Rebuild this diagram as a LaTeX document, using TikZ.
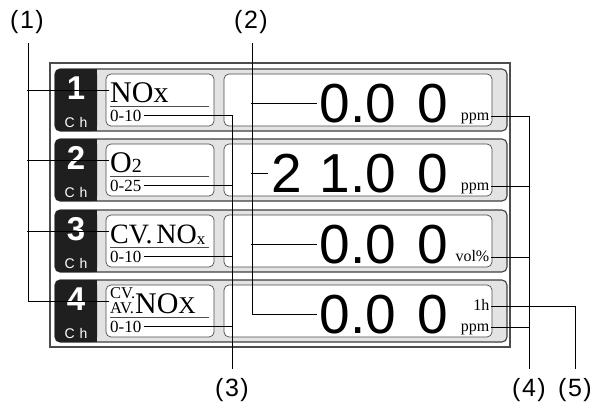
\documentclass[tikz,border=0pt]{standalone}
\usepackage{fontspec}
\setmainfont{Liberation Serif}
\setsansfont{Liberation Sans}
\usetikzlibrary{positioning,calc}

\tikzset{
  rowbox/.style={draw=black!75, fill=black!11, line width=1.1pt, rounded corners=5pt},
  chbox/.style={fill=black!88},
  winbox/.style={draw=black!70, fill=white, line width=0.7pt, rounded corners=5pt},
  leader/.style={draw=black, line width=0.8pt},
  callout/.style={font=\sffamily\fontsize{25}{25}\selectfont, inner sep=0pt},
  chnum/.style={font=\sffamily\bfseries\fontsize{33}{33}\selectfont, text=white, inner sep=0pt, anchor=base},
  chtxt/.style={font=\sffamily\fontsize{14}{14}\selectfont, text=white, inner sep=0pt, anchor=base},
  gasname/.style={font=\fontsize{30}{30}\selectfont, inner sep=1pt, anchor=base west, text height=24pt, text depth=0pt},
  gasrange/.style={font=\fontsize{17}{17}\selectfont, inner sep=2pt, anchor=base west},
  reading/.style={font=\sffamily\fontsize{55}{55}\selectfont, inner ysep=0pt, inner xsep=3pt, anchor=base east},
  unit/.style={font=\fontsize{16}{16}\selectfont, inner sep=1.5pt, anchor=base east, text height=11pt, text depth=3.5pt},
}

\begin{document}
\begin{tikzpicture}[x=1pt,y=-1pt]
                \useasboundingbox (0,0) rectangle (595,410);
                \draw[black!70, line width=1.2pt] (50,63) rectangle (510,347);
                % channel rows
                \draw[rowbox] (55,69) rectangle (507,131);
                \draw[rowbox] (55,139) rectangle (507,201);
                \draw[rowbox] (55,210) rectangle (507,272);
                \draw[rowbox] (55,280) rectangle (507,342);
                \fill[chbox, rounded corners=5pt] (55,69) rectangle (97,131);
                \fill[chbox, rounded corners=5pt] (55,139) rectangle (97,201);
                \fill[chbox, rounded corners=5pt] (55,210) rectangle (97,272);
                \fill[chbox, rounded corners=5pt] (55,280) rectangle (97,342);
                \fill[chbox] (85,69) rectangle (97,131);
                \fill[chbox] (85,139) rectangle (97,201);
                \fill[chbox] (85,210) rectangle (97,272);
                \fill[chbox] (85,280) rectangle (97,342);
                \node[chnum] (chno1) at (76,99) {1};
                \node[chnum] (chno2) at (76,169) {2};
                \node[chnum] (chno3) at (76,240) {3};
                \node[chnum] (chno4) at (76,310) {4};
                \node[chtxt] (chlbl1) at (76,127) {C\hspace{5pt}h};
                \node[chtxt] (chlbl2) at (76,197) {C\hspace{5pt}h};
                \node[chtxt] (chlbl3) at (76,268) {C\hspace{5pt}h};
                \node[chtxt] (chlbl4) at (76,338) {C\hspace{5pt}h};
                \draw[winbox] (106,74) rectangle (214,126);
                \draw[winbox] (106,144) rectangle (214,196);
                \draw[winbox] (106,215) rectangle (214,267);
                \draw[winbox] (106,285) rectangle (214,337);
                \draw[winbox] (224,74) rectangle (492,126);
                \draw[winbox] (224,144) rectangle (492,196);
                \draw[winbox] (224,215) rectangle (492,267);
                \draw[winbox] (224,285) rectangle (492,337);
                \draw[black!70, line width=0.7pt] (110,106) -- (209,106);
                \draw[black!70, line width=0.7pt] (110,176) -- (209,176);
                \draw[black!70, line width=0.7pt] (110,247) -- (209,247);
                \draw[black!70, line width=0.7pt] (110,317) -- (209,317);
                % texts
                \node[gasname] (name1) at (109,102) {NOx};
                \node[gasname] (name2) at (109,172) {O{\fontsize{20}{20}\selectfont 2}};
                \node[gasname, font=\fontsize{28}{28}\selectfont] (name3) at (109,243) {CV.\hspace{4pt}NO\raisebox{-1pt}{\fontsize{17}{17}\selectfont x}};
                \node[gasname] (name4) at (109,313) {{\fontsize{16.5}{13.5}\selectfont\begin{tabular}[b]{@{}l@{}}CV.\\AV.\end{tabular}}NO{\fontsize{24}{24}\selectfont X}};
                \node[gasrange] (range1) at (108,121) {0-10};
                \node[gasrange] (range2) at (108,191) {0-25};
                \node[gasrange] (range3) at (108,262) {0-10};
                \node[gasrange] (range4) at (108,332) {0-10};
                \node[reading] (val1) at (451,122) {0.0\hspace{21pt}0};
                \node[reading] (val2) at (451,192) {2\hspace{18pt}1.0\hspace{21pt}0};
                \node[reading] (val3) at (451,263) {0.0\hspace{21pt}0};
                \node[reading] (val4) at (451,333) {0.0\hspace{21pt}0};
                \node[unit] (unit1) at (491,120) {ppm};
                \node[unit] (unit2) at (491,190) {ppm};
                \node[unit] (unit3) at (491,261) {vol\%};
                \node[unit] (unit4) at (491,331) {ppm};
                \node[unit] (hour4) at (491,310) {1h};
                % callouts
                \node[callout] (lab1) at (27,22) {(\hspace{1.5pt}1\hspace{1.5pt})};
                \node[callout] (lab2) at (251,22) {(\hspace{1.5pt}2\hspace{1.5pt})};
                \node[callout] (lab3) at (232,390) {(\hspace{1.5pt}3\hspace{1.5pt})};
                \node[callout] (lab4) at (529,390) {(\hspace{1.5pt}4\hspace{1.5pt})};
                \node[callout] (lab5) at (575,390) {(\hspace{1.5pt}5\hspace{1.5pt})};
                \draw[leader] (name4.west) -| ([xshift=1pt, yshift=-9pt]lab1.south);
                \draw[leader] (name1.west) -- (name1.west -| lab1.south);
                \draw[leader] (name2.west) -- (name2.west -| lab1.south);
                \draw[leader] (name3.west) -- (name3.west -| lab1.south);
                \draw[leader] (val4.west) -| ([xshift=1pt, yshift=-9pt]lab2.south);
                \draw[leader] (val1.west) -- (val1.west -| lab2.south);
                \draw[leader] (val2.west) -- (val2.west -| lab2.south);
                \draw[leader] (val3.west) -- (val3.west -| lab2.south);
                \draw[leader] (range1.east) -| ([yshift=9pt]lab3.north);
                \draw[leader] (range2.east) -- (range2.east -| lab3.north);
                \draw[leader] (range3.east) -- (range3.east -| lab3.north);
                \draw[leader] (range4.east) -- (range4.east -| lab3.north);
                \draw[leader] (unit1.east) -| ([yshift=9pt]lab4.north);
                \draw[leader] (unit2.east) -- (unit2.east -| lab4.north);
                \draw[leader] (unit3.east) -- (unit3.east -| lab4.north);
                \draw[leader] (unit4.east) -- (unit4.east -| lab4.north);
                \draw[leader] (hour4.east) -| ([yshift=9pt]lab5.north);
            \end{tikzpicture}
\end{document}
